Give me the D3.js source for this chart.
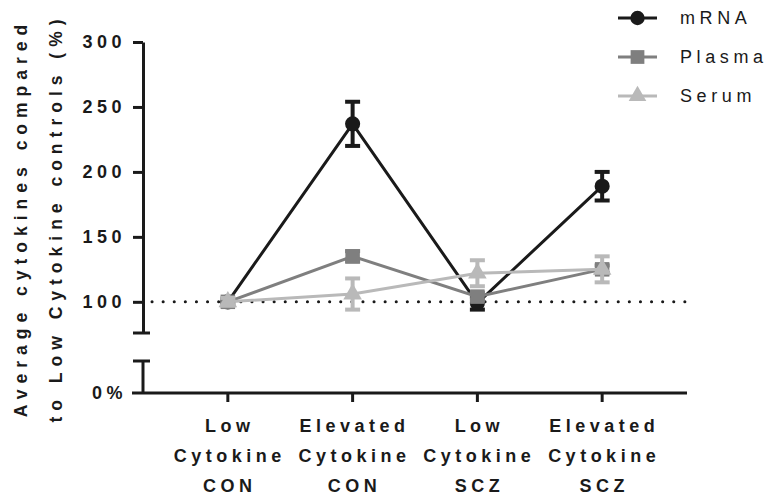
<!DOCTYPE html>
<head>
    <meta charset="utf-8">
    <style>
        body { margin: 0; background: #fff; }
        text { font-family: "Liberation Sans", Arial, sans-serif; fill: #1a1a1a; }
        .axis path, .axis line { stroke: #1a1a1a; stroke-width: 3; }
    </style>
    <script src="https://d3js.org/d3.v7.min.js"></script>
</head>
<body>
    <div id="block"></div>
    <script>

        // groups on the x axis (one line of label per entry)
        var categories = ["lowCon", "elevCon", "lowScz", "elevScz"];
        var categoryLabels = [
            ["Low", "Cytokine", "CON"],
            ["Elevated", "Cytokine", "CON"],
            ["Low", "Cytokine", "SCZ"],
            ["Elevated", "Cytokine", "SCZ"]
        ];

        // mean % of low cytokine controls, and the error (+/-)
        var mrnaValues   = [100, 237, 99, 189];
        var mrnaErrors   = [0, 17, 5, 11];
        var plasmaValues = [100, 135, 104, 125];
        var plasmaErrors = [2, 4, 3, 3];
        var serumValues  = [100, 106, 122, 125];
        var serumErrors  = [3, 12, 10, 10];

        var seriesNames = ["mRNA", "Plasma", "Serum"];
        var yTicks = [100, 150, 200, 250, 300];

        var w = 774,
            h = 497;

        var svg = d3.select("#block")
                    .append("svg")
                    .attr("width", w)
                    .attr("height", h);

        var axisX = 143;

        // upper (broken) segment of y axis and the lower 0% stub
        var y = d3.scaleLinear().domain([76, 300]).range([333, 42]);
        var yLow = d3.scaleLinear().domain([0, 24]).range([393, 361]);

        var x = d3.scalePoint()
                  .domain(categories)
                  .range([axisX, 687])
                  .padding(0.68);

        var styles = {
            mRNA:   { color: "#1a1a1a", symbol: d3.symbolCircle,   size: 180 },
            Plasma: { color: "#7f7f7f", symbol: d3.symbolSquare,   size: 210 },
            Serum:  { color: "#b9b9b9", symbol: d3.symbolTriangle, size: 150 }
        };

        var series = [
            { name: "mRNA",   values: mrnaValues,   errors: mrnaErrors },
            { name: "Plasma", values: plasmaValues, errors: plasmaErrors },
            { name: "Serum",  values: serumValues,  errors: serumErrors }
        ];

        // y axis, upper part
        var yAxis = svg.append("g")
            .attr("class", "axis")
            .attr("transform", "translate(" + axisX + ",0)")
            .call(d3.axisLeft(y).tickValues(yTicks).tickSize(10).tickSizeOuter(0).tickPadding(7));

        yAxis.selectAll("text")
            .style("font-size", "18px")
            .style("font-weight", "bold")
            .style("letter-spacing", "4.5px");

        // break cap
        yAxis.append("line")
            .attr("x1", -10).attr("x2", 7)
            .attr("y1", y(76)).attr("y2", y(76));

        // lower stub with 0%
        var yAxisLow = svg.append("g")
            .attr("class", "axis")
            .attr("transform", "translate(" + axisX + ",0)");

        yAxisLow.append("line")
            .attr("x1", 0).attr("x2", 0)
            .attr("y1", yLow(24)).attr("y2", yLow(0));
        yAxisLow.append("line")
            .attr("x1", -10).attr("x2", 7)
            .attr("y1", yLow(24)).attr("y2", yLow(24));
        yAxisLow.append("text")
            .attr("x", -16)
            .attr("y", yLow(0))
            .attr("dy", "0.36em")
            .attr("text-anchor", "end")
            .style("font-size", "18px")
            .style("font-weight", "bold")
            .style("letter-spacing", "4.5px")
            .text("0%");

        // x axis
        var xAxis = svg.append("g")
            .attr("class", "axis")
            .attr("transform", "translate(0," + yLow(0) + ")");

        xAxis.append("line")
            .attr("x1", axisX - 11).attr("x2", 687)
            .attr("y1", 0).attr("y2", 0);

        xAxis.selectAll(".tick")
            .data(categories)
            .enter()
            .append("line")
            .attr("x1", function(d) { return x(d); })
            .attr("x2", function(d) { return x(d); })
            .attr("y1", 0).attr("y2", 9);

        var xLabels = xAxis.selectAll(".xlabel")
            .data(categories)
            .enter()
            .append("text")
            .attr("text-anchor", "middle")
            .style("font-size", "18px")
            .style("font-weight", "bold")
            .style("letter-spacing", "4.5px");

        xLabels.each(function(d, i) {
            var t = d3.select(this);
            categoryLabels[i].forEach(function(line, j) {
                t.append("tspan")
                 .attr("x", x(d) + 2)
                 .attr("y", 39 + j * 30)
                 .text(line);
            });
        });

        // y axis title
        var title = svg.append("text")
            .attr("transform", "translate(0," + 218 + ") rotate(-90)")
            .attr("text-anchor", "middle")
            .style("font-size", "17.5px")
            .style("font-weight", "bold")
            .style("letter-spacing", "6px");

        title.append("tspan").attr("x", 0).attr("y", 27).text("Average cytokines compared");
        title.append("tspan").attr("x", 0).attr("y", 62).text("to Low Cytokine controls (%)");

        // dotted reference line at 100%
        svg.append("line")
            .attr("x1", 152).attr("x2", 687)
            .attr("y1", y(100)).attr("y2", y(100))
            .attr("stroke", "#1a1a1a")
            .attr("stroke-width", 3)
            .attr("stroke-linecap", "round")
            .attr("stroke-dasharray", "0.1 11");

        var line = d3.line()
            .x(function(d, i) { return x(categories[i]); })
            .y(function(d) { return y(d); });

        series.forEach(function(s) {
            var st = styles[s.name];
            var g = svg.append("g");

            var points = s.values.map(function(v, i) {
                return { cat: categories[i], value: v, error: s.errors[i] };
            });

            g.append("path")
             .attr("d", line(s.values))
             .attr("fill", "none")
             .attr("stroke", st.color)
             .attr("stroke-width", 3);

            var err = g.selectAll(".err")
                .data(points.filter(function(p) { return p.error > 0; }))
                .enter()
                .append("g")
                .attr("stroke", st.color)
                .attr("stroke-width", 4);

            err.append("line")
               .attr("x1", function(p) { return x(p.cat); })
               .attr("x2", function(p) { return x(p.cat); })
               .attr("y1", function(p) { return y(p.value - p.error); })
               .attr("y2", function(p) { return y(p.value + p.error); });

            [-1, 1].forEach(function(sign) {
                err.append("line")
                   .attr("x1", function(p) { return x(p.cat) - 7.5; })
                   .attr("x2", function(p) { return x(p.cat) + 7.5; })
                   .attr("y1", function(p) { return y(p.value + sign * p.error); })
                   .attr("y2", function(p) { return y(p.value + sign * p.error); });
            });

            g.selectAll(".mark")
             .data(points)
             .enter()
             .append("path")
             .attr("d", d3.symbol().type(st.symbol).size(st.size))
             .attr("transform", function(p) {
                 return "translate(" + x(p.cat) + "," + y(p.value) + ")";
             })
             .attr("fill", st.color);
        });

        // legend
        var legend = svg.append("g")
            .selectAll("g")
            .data(seriesNames)
            .enter()
            .append("g")
            .attr("transform", function(d, i) { return "translate(618," + (18 + i * 39) + ")"; });

        legend.append("line")
            .attr("x1", 0).attr("x2", 39)
            .attr("stroke", function(d) { return styles[d].color; })
            .attr("stroke-width", 3);

        legend.append("path")
            .attr("d", function(d) { return d3.symbol().type(styles[d].symbol).size(styles[d].size * 0.9)(); })
            .attr("transform", "translate(19.5,0)")
            .attr("fill", function(d) { return styles[d].color; });

        legend.append("text")
            .attr("x", 62)
            .attr("y", 0)
            .attr("dy", "0.36em")
            .style("font-size", "18px")
            .style("letter-spacing", "4.6px")
            .text(function(d) { return d; });

    </script>
</body>
